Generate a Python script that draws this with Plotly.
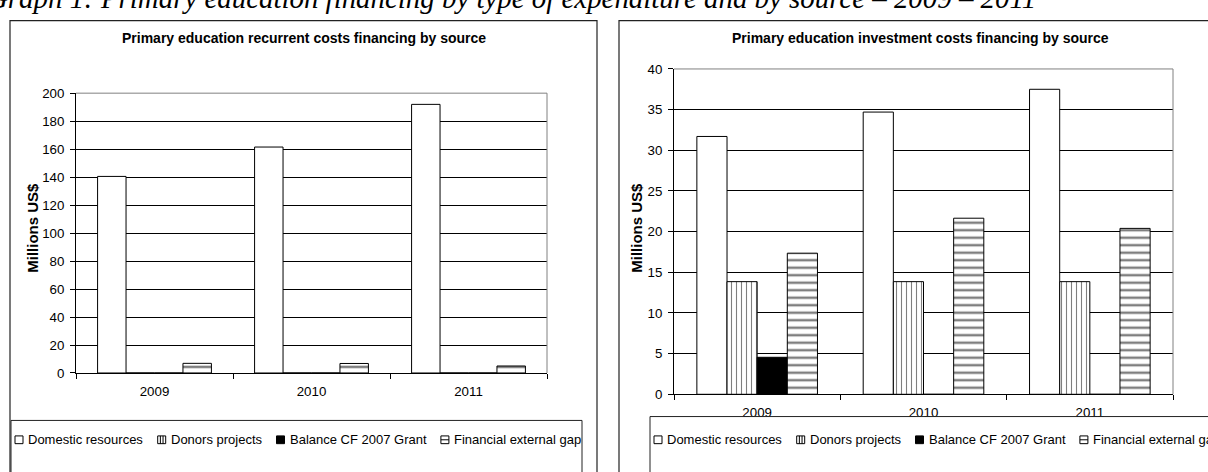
import plotly.graph_objects as go

W, H = 1208, 472

# ---------------- data ----------------
years = ["2009", "2010", "2011"]
series_names = ["Domestic resources", "Donors projects", "Balance CF 2007 Grant", "Financial external gap"]

recurrent_domestic = [140.5, 161.5, 192.0]
recurrent_donors = [0, 0, 0]
recurrent_balance = [0, 0, 0]
recurrent_gap = [6.9, 6.8, 5.0]

invest_domestic = [31.7, 34.7, 37.5]
invest_donors = [13.85, 13.85, 13.85]
invest_balance = [4.55, 0, 0]
invest_gap = [17.35, 21.65, 20.4]

left_title = "Primary education recurrent costs financing by source"
right_title = "Primary education investment costs financing by source"
y_title = "Millions US$"
caption = "Graph 1: Primary education financing by type of expenditure and by source \u2013 2009 \u2013 2011"

left_ticks = list(range(0, 201, 20))
right_ticks = list(range(0, 41, 5))

# ---------------- helpers ----------------
def px(x):
    return x / W


def py(y):
    return 1 - y / H


SANS = "Arial, Liberation Sans, sans-serif"
SERIF = "Times New Roman, Liberation Serif, serif"
OUT = dict(color="black", width=1)

styles = [
    dict(color="white", line=OUT),
    dict(color="white", line=OUT,
         pattern=dict(shape="|", fgcolor="black", bgcolor="white", size=5, solidity=0.22)),
    dict(color="black", line=OUT),
    dict(color="white", line=OUT,
         pattern=dict(shape="-", fgcolor="black", bgcolor="white", size=7.5, solidity=0.33)),
]

fig = go.Figure()

left_series = [recurrent_domestic, recurrent_donors, recurrent_balance, recurrent_gap]
right_series = [invest_domestic, invest_donors, invest_balance, invest_gap]

for name, vals, st in zip(series_names, left_series, styles):
    fig.add_trace(go.Bar(x=years, y=vals, name=name, marker=st, showlegend=False,
                         xaxis="x", yaxis="y"))
for name, vals, st in zip(series_names, right_series, styles):
    fig.add_trace(go.Bar(x=years, y=vals, name=name, marker=st, showlegend=False,
                         xaxis="x2", yaxis="y2"))

# plot areas (pixels)
L = dict(x0=76, x1=547, y0=89, y1=378)
R = dict(x0=674, x1=1173, y0=64, y1=400)

xax_common = dict(type="category", showline=True, linecolor="black", linewidth=1,
                  ticks="outside", tickson="boundaries", ticklen=5, tickcolor="black",
                  tickfont=dict(family=SANS, size=13.3, color="black"), showgrid=False,
                  ticklabelstandoff=6, fixedrange=True)
yax_common = dict(showline=True, linecolor="black", linewidth=1, ticks="outside",
                  ticklen=5, tickcolor="black", showgrid=True, gridcolor="black",
                  gridwidth=1, zeroline=False,
                  tickfont=dict(family=SANS, size=13.3, color="black"),
                  ticklabelstandoff=3, fixedrange=True)

fig.update_layout(
    width=W, height=H,
    margin=dict(l=0, r=0, t=0, b=0),
    paper_bgcolor="white", plot_bgcolor="white",
    barmode="group", bargap=0.275, bargroupgap=0,
    xaxis=dict(domain=[px(L["x0"]), px(L["x1"])], anchor="y", **xax_common),
    yaxis=dict(domain=[py(L["y1"]), py(L["y0"])], anchor="x", range=[0, 200],
               tickvals=left_ticks, **yax_common),
    xaxis2=dict(domain=[px(R["x0"]), px(R["x1"])], anchor="y2", **xax_common),
    yaxis2=dict(domain=[py(R["y1"]), py(R["y0"])], anchor="x2", range=[0, 40],
                tickvals=right_ticks, **yax_common),
)

shapes = []
# grey plot-area border (top and right)
for P in (L, R):
    shapes.append(dict(type="line", xref="paper", yref="paper", x0=px(P["x0"]), x1=px(P["x1"]),
                       y0=py(P["y0"]), y1=py(P["y0"]), line=dict(color="#808080", width=1), layer="above"))
    shapes.append(dict(type="line", xref="paper", yref="paper", x0=px(P["x1"]), x1=px(P["x1"]),
                       y0=py(P["y0"]), y1=py(P["y1"]), line=dict(color="#808080", width=1), layer="above"))

# chart outer boxes
shapes.append(dict(type="rect", xref="paper", yref="paper", x0=px(10), x1=px(597), y0=py(490), y1=py(14),
                   line=dict(color="#222", width=1.2), fillcolor="rgba(0,0,0,0)"))
shapes.append(dict(type="rect", xref="paper", yref="paper", x0=px(619), x1=px(1225), y0=py(490), y1=py(14),
                   line=dict(color="#222", width=1.2), fillcolor="rgba(0,0,0,0)"))
# legend boxes
shapes.append(dict(type="rect", xref="paper", yref="paper", x0=px(11), x1=px(582), y0=py(490), y1=py(427),
                   line=dict(color="#222", width=1), fillcolor="rgba(0,0,0,0)"))
shapes.append(dict(type="rect", xref="paper", yref="paper", x0=px(650), x1=px(1225), y0=py(490), y1=py(423),
                   line=dict(color="#222", width=1), fillcolor="rgba(0,0,0,0)"))

annotations = []

# legend entries (manual, Excel-style compact keys)
sym_x = [15, 157.7, 276.5, 440.9]
txt_x = [26, 168.7, 287.5, 451.9]


def legend(offset, cy):
    s = 8
    for i, name in enumerate(series_names):
        x0 = sym_x[i] + offset
        y0 = cy - s / 2
        fill = "black" if i == 2 else "white"
        shapes.append(dict(type="rect", xref="paper", yref="paper", x0=px(x0), x1=px(x0 + s),
                           y0=py(y0 + s), y1=py(y0), line=dict(color="black", width=1), fillcolor=fill))
        if i == 1:
            for k in (1, 2):
                xx = x0 + k * s / 3
                shapes.append(dict(type="line", xref="paper", yref="paper", x0=px(xx), x1=px(xx),
                                   y0=py(y0 + s), y1=py(y0), line=dict(color="black", width=1)))
        if i == 3:
            shapes.append(dict(type="line", xref="paper", yref="paper", x0=px(x0), x1=px(x0 + s),
                               y0=py(cy), y1=py(cy), line=dict(color="black", width=1)))
        annotations.append(dict(xref="paper", yref="paper", x=px(txt_x[i] + offset), y=py(cy),
                                xanchor="left", yanchor="middle", showarrow=False, text=name,
                                font=dict(family=SANS, size=13, color="black")))


legend(0, 447)
legend(639, 447)

# chart titles
annotations.append(dict(xref="paper", yref="paper", x=px(303.5), y=py(32), xanchor="center",
                        yanchor="middle", showarrow=False, text="<b>%s</b>" % left_title,
                        font=dict(family=SANS, size=14, color="black")))
annotations.append(dict(xref="paper", yref="paper", x=px(920), y=py(32), xanchor="center",
                        yanchor="middle", showarrow=False, text="<b>%s</b>" % right_title,
                        font=dict(family=SANS, size=14, color="black")))
# y axis titles
annotations.append(dict(xref="paper", yref="paper", x=px(33), y=py(228), xanchor="center",
                        yanchor="middle", showarrow=False, textangle=-90, text="<b>%s</b>" % y_title,
                        font=dict(family=SANS, size=15, color="black")))
annotations.append(dict(xref="paper", yref="paper", x=px(637), y=py(228), xanchor="center",
                        yanchor="middle", showarrow=False, textangle=-90, text="<b>%s</b>" % y_title,
                        font=dict(family=SANS, size=15, color="black")))
# partially visible document caption (cut by the top edge, as in the source page)
annotations.append(dict(xref="paper", yref="paper", x=px(1038), y=py(9), xanchor="right",
                        yanchor="bottom", showarrow=False, text="<i>%s</i>" % caption,
                        font=dict(family=SERIF, size=28.9, color="black")))

fig.update_layout(shapes=shapes, annotations=annotations)

fig.write_html("out.html")
